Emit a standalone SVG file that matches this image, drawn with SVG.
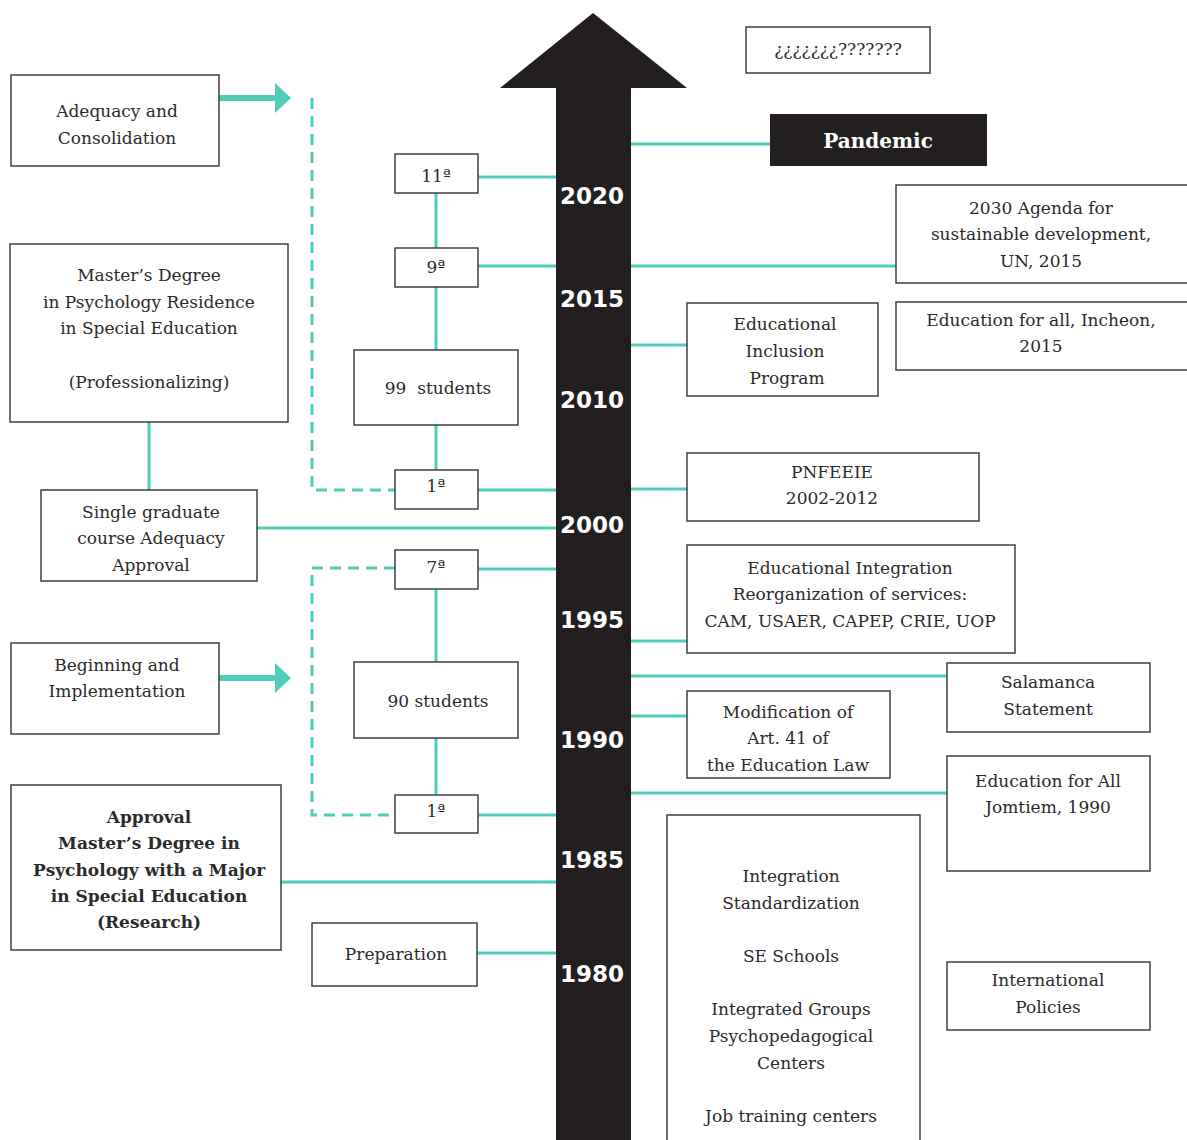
<svg xmlns="http://www.w3.org/2000/svg" width="1187" height="1140" viewBox="0 0 1187 1140">
<style>
.box{fill:#fff;stroke:#333;stroke-width:1.4}
.t{font-family:"DejaVu Serif","Liberation Serif",serif;font-size:17px;fill:#2b2b2b;text-anchor:middle}
.b{font-weight:bold}
.yr{font-family:"DejaVu Sans","Liberation Sans",sans-serif;font-weight:bold;font-size:23px;fill:#fff;text-anchor:middle}
.c{stroke:#4fcdb9;stroke-width:3;fill:none}
.d{stroke:#4fcdb9;stroke-width:3;fill:none;stroke-dasharray:11 7}
.ar{stroke:#4fcdb9;stroke-width:6;fill:none}
.ah{fill:#4fcdb9}
</style>
<rect width="1187" height="1140" fill="#fff"/>
<g id="connectors">
<line class="c" x1="631" y1="144" x2="770" y2="144"/>
<line class="c" x1="478" y1="177" x2="556" y2="177"/>
<line class="c" x1="436" y1="193" x2="436" y2="248"/>
<line class="c" x1="478" y1="266" x2="556" y2="266"/>
<line class="c" x1="631" y1="266" x2="896" y2="266"/>
<line class="c" x1="436" y1="287" x2="436" y2="350"/>
<line class="c" x1="436" y1="425" x2="436" y2="470"/>
<line class="c" x1="478" y1="490" x2="556" y2="490"/>
<line class="c" x1="631" y1="345" x2="687" y2="345"/>
<line class="c" x1="631" y1="489" x2="687" y2="489"/>
<line class="c" x1="149" y1="422" x2="149" y2="490"/>
<line class="c" x1="257" y1="528" x2="556" y2="528"/>
<line class="c" x1="478" y1="569" x2="556" y2="569"/>
<line class="c" x1="436" y1="589" x2="436" y2="662"/>
<line class="c" x1="436" y1="738" x2="436" y2="795"/>
<line class="c" x1="478" y1="815" x2="556" y2="815"/>
<line class="c" x1="631" y1="641" x2="687" y2="641"/>
<line class="c" x1="631" y1="676" x2="947" y2="676"/>
<line class="c" x1="631" y1="716" x2="687" y2="716"/>
<line class="c" x1="631" y1="793" x2="947" y2="793"/>
<line class="c" x1="281" y1="882" x2="556" y2="882"/>
<line class="c" x1="477" y1="953" x2="556" y2="953"/>
<polyline class="d" points="312,98 312,490 395,490"/>
<polyline class="d" points="395,568 312,568 312,815 395,815"/>
<line class="ar" x1="219" y1="98" x2="277" y2="98"/>
<polygon class="ah" points="275,83 291,98 275,113"/>
<line class="ar" x1="219" y1="678" x2="277" y2="678"/>
<polygon class="ah" points="275,663 291,678 275,693"/>
</g>
<g id="timeline">
<polygon points="593,13 687,88 631,88 631,1140 556,1140 556,88 500,88" fill="#231f20"/>
<text class="yr" x="592" y="204">2020</text>
<text class="yr" x="592" y="307">2015</text>
<text class="yr" x="592" y="408">2010</text>
<text class="yr" x="592" y="533">2000</text>
<text class="yr" x="592" y="628">1995</text>
<text class="yr" x="592" y="748">1990</text>
<text class="yr" x="592" y="868">1985</text>
<text class="yr" x="592" y="982">1980</text>
</g>
<g id="n-question"><rect class="box" x="746" y="27" width="184" height="46"/><text class="t" x="838" y="55">¿¿¿¿¿¿¿???????</text></g>
<g id="n-pandemic"><rect x="770" y="114" width="217" height="52" fill="#231f20"/><text class="t b" x="878" y="148" style="fill:#fff;font-size:20px">Pandemic</text></g>
<g id="n-adequacy"><rect class="box" x="11" y="75" width="208" height="91"/><text class="t" x="117" y="117">Adequacy and</text><text class="t" x="117" y="144">Consolidation</text></g>
<g id="n-11a"><rect class="box" x="395" y="154" width="83" height="39"/><text class="t" x="436" y="182">11ª</text></g>
<g id="n-9a"><rect class="box" x="395" y="248" width="83" height="39"/><text class="t" x="436" y="273">9ª</text></g>
<g id="n-99"><rect class="box" x="354" y="350" width="164" height="75"/><text class="t" x="438" y="394">99&#160; students</text></g>
<g id="n-1a-top"><rect class="box" x="395" y="470" width="83" height="39"/><text class="t" x="436" y="492">1ª</text></g>
<g id="n-masters"><rect class="box" x="10" y="244" width="278" height="178"/><text class="t" x="149" y="281">Master’s Degree</text><text class="t" x="149" y="308">in Psychology Residence</text><text class="t" x="149" y="334">in Special Education</text><text class="t" x="149" y="388">(Professionalizing)</text></g>
<g id="n-single"><rect class="box" x="41" y="490" width="216" height="91"/><text class="t" x="151" y="518">Single graduate</text><text class="t" x="151" y="544">course Adequacy</text><text class="t" x="151" y="571">Approval</text></g>
<g id="n-7a"><rect class="box" x="395" y="550" width="83" height="39"/><text class="t" x="436" y="573">7ª</text></g>
<g id="n-90"><rect class="box" x="354" y="662" width="164" height="76"/><text class="t" x="438" y="707">90 students</text></g>
<g id="n-1a-bot"><rect class="box" x="395" y="795" width="83" height="38"/><text class="t" x="436" y="817">1ª</text></g>
<g id="n-beginning"><rect class="box" x="11" y="643" width="208" height="91"/><text class="t" x="117" y="671">Beginning and</text><text class="t" x="117" y="697">Implementation</text></g>
<g id="n-approval"><rect class="box" x="11" y="785" width="270" height="165"/><text class="t b" x="149" y="823">Approval</text><text class="t b" x="149" y="849">Master’s Degree in</text><text class="t b" x="149" y="876">Psychology with a Major</text><text class="t b" x="149" y="902">in Special Education</text><text class="t b" x="149" y="928">(Research)</text></g>
<g id="n-preparation"><rect class="box" x="312" y="923" width="165" height="63"/><text class="t" x="396" y="960">Preparation</text></g>
<g id="n-agenda"><rect class="box" x="896" y="185" width="296" height="98"/><text class="t" x="1041" y="214">2030 Agenda for</text><text class="t" x="1041" y="240">sustainable development,</text><text class="t" x="1041" y="267">UN, 2015</text></g>
<g id="n-incheon"><rect class="box" x="896" y="302" width="296" height="68"/><text class="t" x="1041" y="326">Education for all, Incheon,</text><text class="t" x="1041" y="352">2015</text></g>
<g id="n-inclusion"><rect class="box" x="687" y="303" width="191" height="93"/><text class="t" x="785" y="330">Educational</text><text class="t" x="785" y="357">Inclusion</text><text class="t" x="787" y="384">Program</text></g>
<g id="n-pnfeeie"><rect class="box" x="687" y="453" width="292" height="68"/><text class="t" x="832" y="478">PNFEEIE</text><text class="t" x="832" y="504">2002-2012</text></g>
<g id="n-integration-reorg"><rect class="box" x="687" y="545" width="328" height="108"/><text class="t" x="850" y="574">Educational Integration</text><text class="t" x="850" y="600">Reorganization of services:</text><text class="t" x="850" y="627">CAM, USAER, CAPEP, CRIE, UOP</text></g>
<g id="n-salamanca"><rect class="box" x="947" y="663" width="203" height="69"/><text class="t" x="1048" y="688">Salamanca</text><text class="t" x="1048" y="715">Statement</text></g>
<g id="n-modification"><rect class="box" x="687" y="691" width="203" height="87"/><text class="t" x="788" y="718">Modification of</text><text class="t" x="788" y="744">Art. 41 of</text><text class="t" x="788" y="771">the Education Law</text></g>
<g id="n-jomtiem"><rect class="box" x="947" y="756" width="203" height="115"/><text class="t" x="1048" y="787">Education for All</text><text class="t" x="1048" y="813">Jomtiem, 1990</text></g>
<g id="n-integration"><rect class="box" x="667" y="815" width="253" height="330"/><text class="t" x="791" y="882">Integration</text><text class="t" x="791" y="909">Standardization</text><text class="t" x="791" y="962">SE Schools</text><text class="t" x="791" y="1015">Integrated Groups</text><text class="t" x="791" y="1042">Psychopedagogical</text><text class="t" x="791" y="1069">Centers</text><text class="t" x="791" y="1122">Job training centers</text></g>
<g id="n-intl"><rect class="box" x="947" y="962" width="203" height="68"/><text class="t" x="1048" y="986">International</text><text class="t" x="1048" y="1013">Policies</text></g>
</svg>
